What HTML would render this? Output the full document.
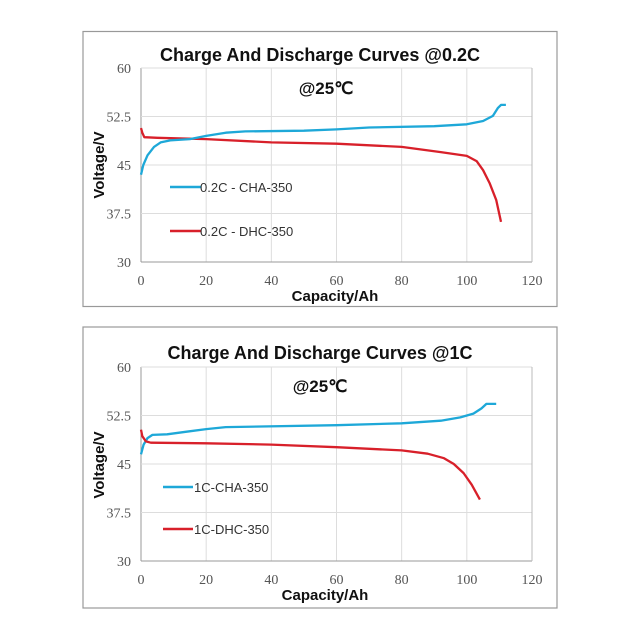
<!DOCTYPE html>
<html><head><meta charset="utf-8"><style>
html,body{margin:0;padding:0;background:#fff;}
svg{display:block;}
.t{font-family:"Liberation Sans",sans-serif;font-weight:bold;fill:#111;}
.tk{font-family:"Liberation Serif",serif;font-size:14px;fill:#555;}
.lg{font-family:"Liberation Sans",sans-serif;font-size:13px;fill:#333;}
</style></head><body>
<svg id="s" width="632" height="632" viewBox="0 0 632 632" xmlns="http://www.w3.org/2000/svg">
<rect width="632" height="632" fill="#fff"/>
<rect x="83" y="31.5" width="474" height="275" fill="#fff" stroke="#999" stroke-width="1.2"/>
<rect x="83" y="327" width="474" height="281" fill="#fff" stroke="#999" stroke-width="1.2"/>
<g id="g1"></g><g id="g2"></g>
<text class="t" x="320" y="61" font-size="18" text-anchor="middle">Charge And Discharge Curves @0.2C</text>
<text class="t" x="326" y="94" font-size="17" text-anchor="middle">@25℃</text>
<text class="t" x="335" y="301" font-size="15" text-anchor="middle">Capacity/Ah</text>
<text class="t" x="0" y="0" font-size="15" text-anchor="middle" transform="translate(104,165) rotate(-90)">Voltage/V</text>
<text class="t" x="320" y="359" font-size="18" text-anchor="middle">Charge And Discharge Curves @1C</text>
<text class="t" x="320" y="392" font-size="17" text-anchor="middle">@25℃</text>
<text class="t" x="325" y="600" font-size="15" text-anchor="middle">Capacity/Ah</text>
<text class="t" x="0" y="0" font-size="15" text-anchor="middle" transform="translate(104,465) rotate(-90)">Voltage/V</text>
<line x1="170" y1="187" x2="201" y2="187" stroke="#1ea8d8" stroke-width="2.5"/>
<text class="lg" x="200" y="192">0.2C - CHA-350</text>
<line x1="170" y1="231" x2="201" y2="231" stroke="#d8202a" stroke-width="2.5"/>
<text class="lg" x="200" y="236">0.2C - DHC-350</text>
<line x1="163" y1="487" x2="193" y2="487" stroke="#1ea8d8" stroke-width="2.5"/>
<text class="lg" x="194" y="492">1C-CHA-350</text>
<line x1="163" y1="529" x2="193" y2="529" stroke="#d8202a" stroke-width="2.5"/>
<text class="lg" x="194" y="534">1C-DHC-350</text>
</svg>
<script>
var NS="http://www.w3.org/2000/svg";
function el(g,n,a,txt){var e=document.createElementNS(NS,n);for(var k in a)e.setAttribute(k,a[k]);if(txt!==undefined)e.textContent=txt;g.appendChild(e);return e;}
function chart(id,top,bot,series){
 var g=document.getElementById(id),L=141,R=532;
 var X=function(c){return L+c*(R-L)/120},Y=function(v){return top+(60-v)*(bot-top)/30};
 for(var i=0;i<=6;i++){var x=X(i*20);el(g,"line",{x1:x,y1:top,x2:x,y2:bot,stroke:i==0?"#999":"#ddd","stroke-width":1});
  el(g,"text",{class:"tk",x:x,y:bot+23,"text-anchor":"middle"},String(i*20));}
 var yl=["60","52.5","45","37.5","30"];
 for(var j=0;j<=4;j++){var y=top+j*(bot-top)/4;el(g,"line",{x1:L,y1:y,x2:R,y2:y,stroke:j==4?"#999":"#ddd","stroke-width":1});
  el(g,"text",{class:"tk",x:131,y:y+5,"text-anchor":"end"},yl[j]);}
 el(g,"line",{x1:R,y1:top,x2:R,y2:bot,stroke:"#bbb"});
 series.forEach(function(s){var d=s.p.map(function(p,i){return (i?"L":"M")+X(p[0]).toFixed(1)+","+Y(p[1]).toFixed(1)}).join("");
  el(g,"path",{d:d,fill:"none",stroke:s.c,"stroke-width":2.3,"stroke-linejoin":"round"});});
}
var B="#1ea8d8",Rd="#d8202a";
chart("g1",68,262,[
{c:Rd,p:[[0,50.7],[0.4,50],[1,49.3],[5,49.2],[20,49],[40,48.5],[60,48.3],[80,47.8],[92,47],[100,46.4],[103,45.6],[105,44.2],[107,42.2],[109,39.6],[110.5,36.2]]},
{c:B,p:[[0,43.5],[0.7,45],[2,46.5],[4,47.8],[6,48.5],[9,48.8],[15,49],[20,49.5],[26,50],[32,50.2],[50,50.3],[60,50.5],[70,50.8],[90,51],[100,51.3],[105,51.8],[108,52.6],[109.5,53.8],[110.5,54.3],[112,54.3]]}
]);
chart("g2",367,561,[
{c:B,p:[[0,46.5],[0.8,48],[2,49],[3.5,49.5],[8,49.6],[14,50],[20,50.4],[26,50.7],[60,51],[80,51.3],[92,51.7],[98,52.2],[102,52.8],[104.5,53.6],[106,54.3],[109,54.3]]},
{c:Rd,p:[[0,50.3],[0.4,49.3],[1.5,48.5],[3,48.3],[20,48.2],[40,48],[60,47.6],[80,47.1],[88,46.6],[93,45.9],[96,45],[99,43.6],[101.5,41.8],[104,39.5]]}
]);
</script>
</body></html>
